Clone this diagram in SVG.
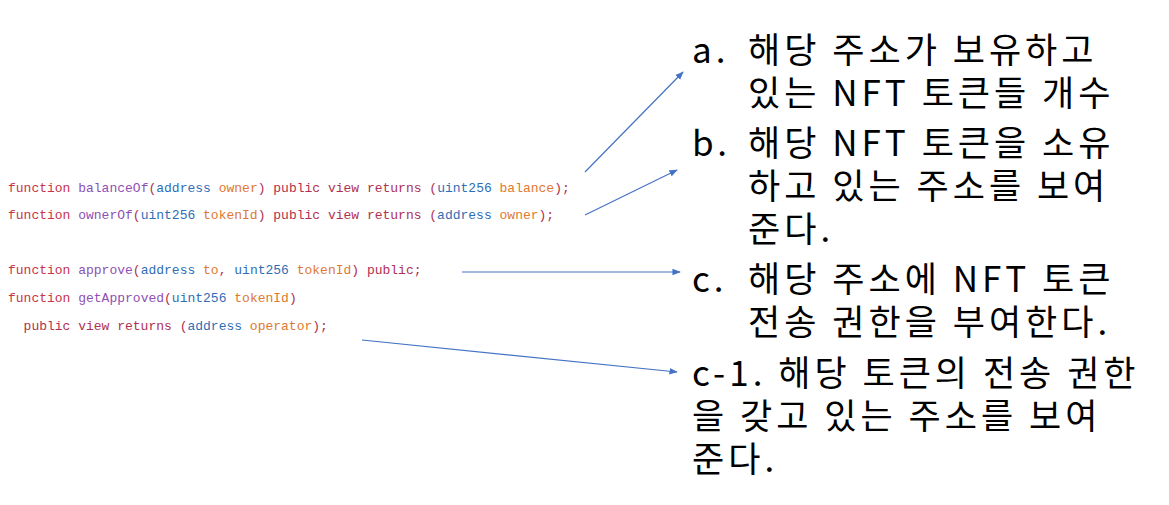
<svg xmlns="http://www.w3.org/2000/svg" width="1169" height="505" viewBox="0 0 1169 505">
<defs>
<style>
.c{font-family:"Liberation Mono","DejaVu Sans Mono",monospace;font-size:13px;white-space:pre}
.k{fill:#c8334a}.f{fill:#8e4fb5}.t{fill:#2f6db5}.p{fill:#e0782f}.o{fill:#b03050}
.r{font-family:"Noto Sans CJK KR","Noto Sans",sans-serif;font-size:35px;letter-spacing:4px;fill:#000}
.ln{stroke:#4472c4;stroke-width:1.2;fill:none;marker-end:url(#a)}
</style>
<marker id="a" viewBox="0 0 10 10" refX="9" refY="5" markerWidth="7" markerHeight="7" orient="auto"><path d="M0,1 L10,5 L0,9 z" fill="#4472c4"/></marker>
</defs>
<rect width="1169" height="505" fill="#fff"/>
<g id="code">
<text class="c" x="8" y="192"><tspan class="k">function </tspan><tspan class="f">balanceOf</tspan><tspan class="o">(</tspan><tspan class="t">address </tspan><tspan class="p">owner</tspan><tspan class="o">) public view returns (</tspan><tspan class="t">uint256 </tspan><tspan class="p">balance</tspan><tspan class="o">);</tspan></text>
<text class="c" x="8" y="219"><tspan class="k">function </tspan><tspan class="f">ownerOf</tspan><tspan class="o">(</tspan><tspan class="t">uint256 </tspan><tspan class="p">tokenId</tspan><tspan class="o">) public view returns (</tspan><tspan class="t">address </tspan><tspan class="p">owner</tspan><tspan class="o">);</tspan></text>
<text class="c" x="8" y="274"><tspan class="k">function </tspan><tspan class="f">approve</tspan><tspan class="o">(</tspan><tspan class="t">address </tspan><tspan class="p">to</tspan><tspan class="o">, </tspan><tspan class="t">uint256 </tspan><tspan class="p">tokenId</tspan><tspan class="o">) public;</tspan></text>
<text class="c" x="8" y="302"><tspan class="k">function </tspan><tspan class="f">getApproved</tspan><tspan class="o">(</tspan><tspan class="t">uint256 </tspan><tspan class="p">tokenId</tspan><tspan class="o">)</tspan></text>
<text class="c" x="8" y="330"><tspan class="o">  public view returns (</tspan><tspan class="t">address </tspan><tspan class="p">operator</tspan><tspan class="o">);</tspan></text>
</g>
<g id="na"><text class="r" x="692" y="63">a.</text><text class="r" x="748" y="63">해당 주소가 보유하고</text><text class="r" x="748" y="106">있는 NFT 토큰들 개수</text></g>
<g id="nb"><text class="r" x="692" y="156">b.</text><text class="r" x="748" y="156">해당 NFT 토큰을 소유</text><text class="r" x="748" y="199">하고 있는 주소를 보여</text><text class="r" x="748" y="242">준다.</text></g>
<g id="nc"><text class="r" x="692" y="292">c.</text><text class="r" x="748" y="292">해당 주소에 NFT 토큰</text><text class="r" x="748" y="335">전송 권한을 부여한다.</text></g>
<g id="nc1"><text class="r" x="692" y="386">c-1. 해당 토큰의 전송 권한</text><text class="r" x="692" y="429">을 갖고 있는 주소를 보여</text><text class="r" x="692" y="472">준다.</text></g>
<g id="connectors">
<line class="ln" x1="585" y1="172" x2="683" y2="72"/>
<line class="ln" x1="585" y1="215" x2="677" y2="170"/>
<line class="ln" x1="462" y1="272" x2="680" y2="272"/>
<line class="ln" x1="362" y1="340" x2="677" y2="372"/>
</g>
</svg>
